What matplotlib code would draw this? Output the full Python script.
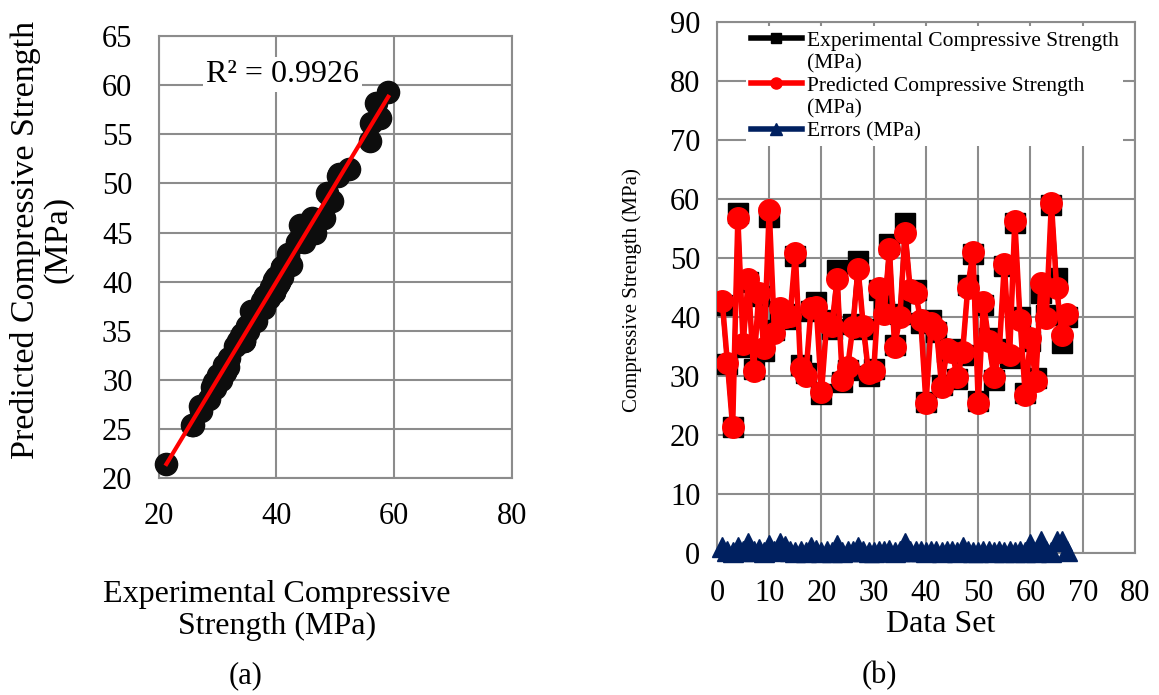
import numpy as np
import matplotlib
matplotlib.use("Agg")
import matplotlib.pyplot as plt
from matplotlib.lines import Line2D

plt.rcParams['font.family'] = ['Liberation Serif', 'DejaVu Serif']

# data, data set 1..67
predicted = [42.8, 32.2, 21.4, 56.7, 35.5, 46.5, 30.8, 44.0, 34.7, 58.2,
             37.3, 41.5, 40.0, 40.2, 50.8, 31.3, 30.0, 41.5, 41.7, 27.3,
             39.0, 38.5, 46.5, 29.3, 31.5, 38.3, 48.2, 38.5, 30.5, 30.8,
             45.0, 40.5, 51.5, 35.0, 40.0, 54.3, 44.5, 44.0, 39.5, 25.4,
             39.0, 38.0, 28.1, 34.5, 34.0, 29.8, 34.0, 45.0, 51.0, 25.4,
             42.5, 36.0, 29.8, 34.0, 49.0, 33.5, 56.2, 39.5, 26.8, 36.5,
             29.2, 45.8, 39.8, 59.3, 45.0, 37.0, 40.5]
experimental = [42.0, 32.0, 21.3, 57.6, 35.0, 46.0, 31.2, 43.5, 34.2, 57.0,
                37.8, 41.0, 40.5, 39.6, 50.4, 31.8, 30.5, 41.0, 42.5, 27.0,
                39.5, 38.0, 48.0, 29.0, 31.0, 38.8, 49.5, 38.0, 30.0, 31.2,
                44.5, 41.0, 52.3, 35.2, 40.5, 55.9, 44.0, 44.6, 39.0, 25.6,
                39.5, 37.5, 28.5, 34.0, 34.5, 29.5, 33.5, 45.5, 50.6, 25.8,
                42.0, 36.5, 29.4, 34.5, 48.6, 33.0, 56.0, 40.0, 27.2, 36.0,
                29.6, 44.0, 40.3, 59.0, 46.6, 35.6, 40.0]
errors = [1.0, 0.3, 0.2, 1.0, 0.4, 1.7, 0.3, 0.7, 0.2, 1.4,
          0.4, 1.7, 1.2, 0.4, 0.2, 0.3, 0.2, 1.0, 0.5, 0.2,
          0.3, 0.2, 1.4, 0.2, 0.3, 0.4, 1.0, 0.3, 0.2, 0.2,
          0.3, 0.4, 0.5, 0.1, 0.3, 1.7, 0.3, 0.4, 0.3, 0.2,
          0.3, 0.3, 0.2, 0.3, 0.3, 0.2, 1.0, 0.3, 0.2, 0.2,
          0.3, 0.3, 0.2, 0.3, 0.2, 0.3, 0.1, 0.3, 0.2, 1.6,
          0.2, 2.0, 0.3, 0.2, 2.0, 2.1, 0.3]
data_set = list(range(1, len(predicted) + 1))

GRID = '#8c8c8c'
NAVY = '#002060'

fig = plt.figure(figsize=(11.59, 6.95), dpi=100)

# ---- (a) scatter with trend line
ax1 = fig.add_axes([0.137, 0.312, 0.3046, 0.636])
ax1.plot(experimental, predicted, 'o', color='#0d0d0d', ms=16, clip_on=False, zorder=3)
slope, icpt = np.polyfit(experimental, predicted, 1)
xs = np.array([min(experimental), max(experimental)])
ax1.plot(xs, slope * xs + icpt, color='red', lw=3, zorder=4)
ax1.set_xlim(20, 80)
ax1.set_ylim(20, 65)
ax1.set_xticks([20, 40, 60, 80])
ax1.set_yticks(range(20, 66, 5))
ax1.grid(color=GRID, lw=1.5)
ax1.set_axisbelow(True)
ax1.tick_params(length=0, labelsize=22)
ax1.tick_params(axis='y', pad=19)
ax1.tick_params(axis='x', pad=17)
for s in ax1.spines.values():
    s.set_color(GRID)
    s.set_linewidth(1.5)
ax1.text(41.0, 61.1, 'R² = 0.9926', fontsize=23, ha='center', va='center',
         bbox=dict(facecolor='white', edgecolor='none', pad=2), zorder=5)

fig.text(0.036, 0.655, 'Predicted Compressive Strength\n(MPa)', rotation=90,
         ha='center', va='center', fontsize=24.5, linespacing=1.05)
fig.text(0.239, 0.122, 'Experimental Compressive\nStrength (MPa)', ha='center',
         va='center', fontsize=23, linespacing=1.15)
fig.text(0.212, 0.028, '(a)', ha='center', va='center', fontsize=22)

# ---- (b) series over data set
ax2 = fig.add_axes([0.6186, 0.2043, 0.3607, 0.764])
ax2.plot(data_set, experimental, '-s', color='black', ms=15, lw=3, zorder=3)
ax2.plot(data_set, predicted, '-o', color='red', ms=15.5, lw=4, zorder=4)
ax2.plot(data_set, errors, '-^', color=NAVY, ms=15, lw=4, zorder=5, clip_on=False)
ax2.set_xlim(0, 80)
ax2.set_ylim(0, 90)
ax2.set_xticks(range(0, 81, 10))
ax2.set_yticks(range(0, 91, 10))
ax2.grid(color=GRID, lw=1.5)
ax2.set_axisbelow(True)
ax2.tick_params(length=0, labelsize=22)
ax2.tick_params(axis='y', pad=12)
ax2.tick_params(axis='x', pad=19)
for s in ax2.spines.values():
    s.set_color(GRID)
    s.set_linewidth(1.5)

fig.text(0.545, 0.583, 'Compressive Strength (MPa)', rotation=90, ha='center',
         va='center', fontsize=15)
fig.text(0.812, 0.101, 'Data Set', ha='center', va='center', fontsize=23)
fig.text(0.759, 0.028, '(b)', ha='center', va='center', fontsize=22)

blank = Line2D([], [], color='none')
h_exp = Line2D([], [], color='black', marker='s', ms=7, lw=4)
h_pred = Line2D([], [], color='red', marker='o', ms=8, lw=4)
h_err = Line2D([], [], color=NAVY, marker='^', ms=8, lw=4)
leg = ax2.legend([h_exp, blank, h_pred, blank, h_err],
                 ['Experimental Compressive Strength', '(MPa)',
                  'Predicted Compressive Strength', '(MPa)', 'Errors (MPa)'],
                 loc='upper left', bbox_to_anchor=(0.06, 1.0), fontsize=15.5,
                 frameon=True, framealpha=1, edgecolor='none', fancybox=False,
                 handlelength=2.4, handletextpad=0.2, labelspacing=0.12,
                 borderpad=0.2, borderaxespad=0.2)
leg.set_zorder(10)

fig.savefig('out.png', dpi=100)
